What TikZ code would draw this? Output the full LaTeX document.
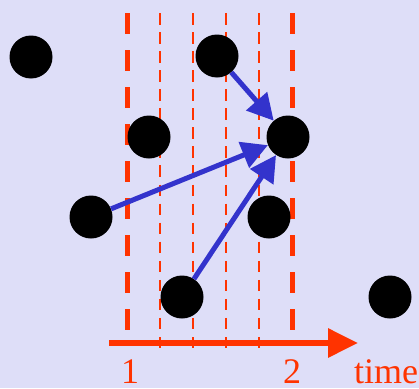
\documentclass[tikz,border=0pt]{standalone}
\usepackage{fontspec}
\setmainfont{Liberation Serif}
\usetikzlibrary{arrows.meta}

\definecolor{fondolila}{RGB}{222,222,248}
\definecolor{rojotiempo}{RGB}{255,51,0}
\definecolor{azulflecha}{RGB}{51,51,204}

\tikzset{
  punto/.style={circle,fill=black,minimum size=43pt,inner sep=0pt},
  corte/.style={rojotiempo,line width=5pt,dash pattern=on 21pt off 16pt},
  subcorte/.style={rojotiempo,line width=2.5pt,dash pattern=on 11.5pt off 7.56pt},
  flecha/.style={azulflecha,line width=5pt,-{Triangle[length=26pt,width=27pt]}},
  eje/.style={rojotiempo,line width=6pt,-{Triangle[length=30pt,width=28pt]}},
  etiqueta/.style={rojotiempo,font=\fontsize{36}{40}\selectfont,inner sep=0pt}
}

\begin{document}
\begin{tikzpicture}[x=1pt,y=-1pt]
        % Fondo
        \fill[fondolila] (0,0) rectangle (419,388);
        \useasboundingbox (0,0) rectangle (419,388);
        \clip (0,0) rectangle (419,388);

        % Cortes de tiempo 1 y 2
        \draw[corte] (127,13) -- (127,332);
        \draw[corte] (292,13) -- (292,332);

        % Subdivisiones intermedias
        \foreach \x in {160,193,226,259} {
            \draw[subcorte] (\x,13) -- (\x,348);
        }

        % Eje del tiempo
        \coordinate (t0) at (109,343);
        \coordinate (t1) at (358,343);
        \draw[eje] (t0) -- (t1);
        \node[etiqueta,anchor=base] (n1) at (130,383) {1};
        \node[etiqueta,anchor=base] (n2) at (292,383) {2};
        \node[etiqueta,anchor=base west] (ntime) at (354,383) {time};

        % Eventos
        \node[punto] (p1) at (31,57) {};
        \node[punto] (p2) at (217,56) {};
        \node[punto] (p3) at (149,137) {};
        \node[punto] (p4) at (288,137) {};
        \node[punto] (p5) at (91,217) {};
        \node[punto] (p6) at (269,217) {};
        \node[punto] (p7) at (182,297) {};
        \node[punto] (p8) at (390,297) {};

        % Influencias sobre p4
        \draw[flecha] (p2) -- (p4);
        \draw[flecha] (p5) -- (p4);
        \draw[flecha] (p7) -- (p4);
    \end{tikzpicture}
\end{document}
